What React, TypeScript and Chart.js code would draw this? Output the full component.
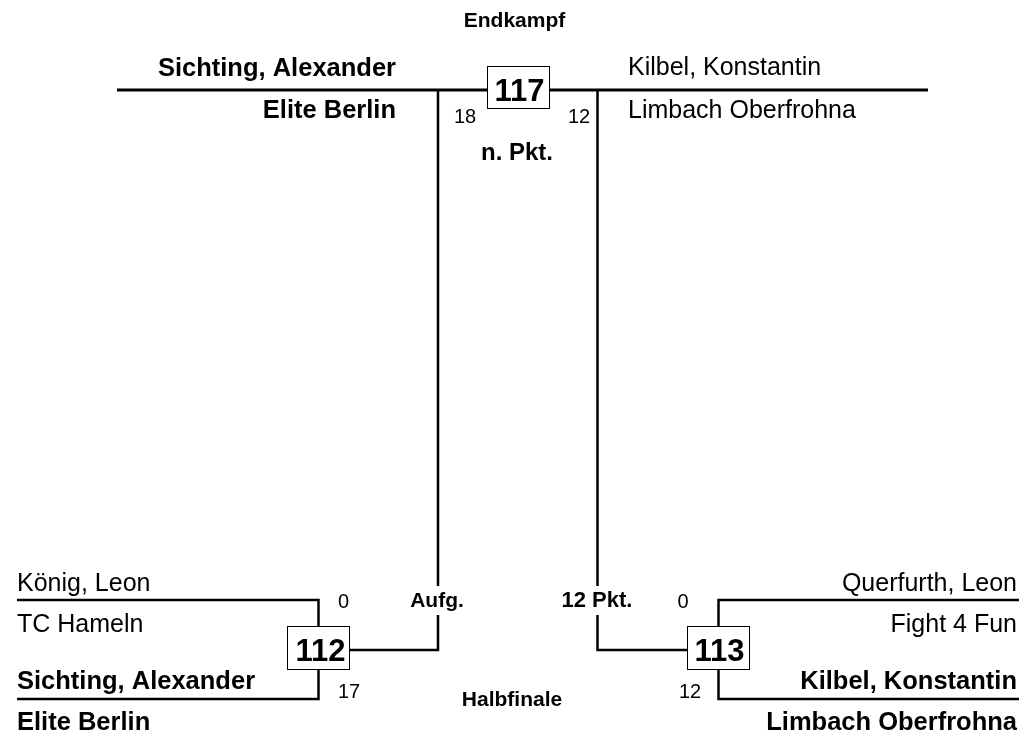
import React, { useEffect, useRef } from "react";
import { Chart, registerables } from "chart.js";

Chart.register(...registerables);

// ---------- data ----------
const roundLabels = ["Halbfinale", "Endkampf"];
const semiMatchNumbers = [112, 113];
const finalMatchNumber = 117;

const semiPlayersLeft = ["König, Leon", "Sichting, Alexander"];
const semiClubsLeft = ["TC Hameln", "Elite Berlin"];
const semiScoresLeft = [0, 17];

const semiPlayersRight = ["Querfurth, Leon", "Kilbel, Konstantin"];
const semiClubsRight = ["Fight 4 Fun", "Limbach Oberfrohna"];
const semiScoresRight = [0, 12];

const semiWinnerIndex = [1, 1];
const semiResults = ["Aufg.", "12 Pkt."];

const finalPlayers = ["Sichting, Alexander", "Kilbel, Konstantin"];
const finalClubs = ["Elite Berlin", "Limbach Oberfrohna"];
const finalScores = [18, 12];
const finalWinnerIndex = 0;
const finalResult = "n. Pkt.";

// ---------- layout (page units) ----------
const W = 1021;
const H = 737;
const FONT = "'Liberation Sans', Arial, Helvetica, sans-serif";

const LAYOUT = {
  finalLineY: 90,
  finalLineX0: 117,
  finalLineX1: 928,
  finalBoxCx: 518.5,
  finalBoxCy: 87.5,
  boxW: 62,
  finalBoxH: 42,
  semiBoxH: 43,
  feedX: [438, 597.5],
  semiBoxCx: [318.5, 718.5],
  semiBoxCy: 648,
  connectorY: 650,
  semiTopY: 600,
  semiBotY: 699,
  semiOuterX: [17, 1019],
  resultGap: [586, 615],
};

const SIZE = {
  nameBold: 25.5,
  nameRegular: 25,
  round: 21,
  score: 20,
  matchNo: 31,
  finalResult: 24,
  semiResult: [21, 22],
};

type Txt = { t: string; x: number; y: number; size: number; bold: boolean; align: CanvasTextAlign };

function buildSegments(): { x: number; y: number }[][] {
  const L = LAYOUT;
  const segs: { x: number; y: number }[][] = [];
  for (let s = 0; s < 2; s++) {
    const bx = L.semiBoxCx[s];
    const ox = L.semiOuterX[s];
    const top = L.semiBoxCy - L.semiBoxH / 2;
    const bot = L.semiBoxCy + L.semiBoxH / 2;
    segs.push([{ x: ox, y: L.semiTopY }, { x: bx, y: L.semiTopY }, { x: bx, y: top }]);
    segs.push([{ x: bx, y: bot }, { x: bx, y: L.semiBotY }, { x: ox, y: L.semiBotY }]);
    const edge = s === 0 ? bx + L.boxW / 2 : bx - L.boxW / 2;
    const fx = L.feedX[s];
    segs.push([{ x: edge, y: L.connectorY }, { x: fx, y: L.connectorY }, { x: fx, y: L.resultGap[1] }]);
    segs.push([{ x: fx, y: L.resultGap[0] }, { x: fx, y: L.finalLineY }]);
  }
  return segs;
}

function nameSize(bold: boolean) {
  return bold ? SIZE.nameBold : SIZE.nameRegular;
}

function buildTexts(): Txt[] {
  const L = LAYOUT;
  const out: Txt[] = [];
  const push = (t: string, x: number, y: number, size: number, bold: boolean, align: CanvasTextAlign) =>
    out.push({ t, x, y, size, bold, align });
  // round labels
  push(roundLabels[1], 514.5, 27, SIZE.round, true, "center");
  push(roundLabels[0], 512, 706, SIZE.round, true, "center");
  // final
  const b0 = finalWinnerIndex === 0;
  const b1 = finalWinnerIndex === 1;
  push(finalPlayers[0], 396, 76, nameSize(b0), b0, "right");
  push(finalClubs[0], 396, 118, nameSize(b0), b0, "right");
  push(finalPlayers[1], 628, 75, nameSize(b1), b1, "left");
  push(finalClubs[1], 628, 118, nameSize(b1), b1, "left");
  push(String(finalMatchNumber), L.finalBoxCx + 1, 101, SIZE.matchNo, true, "center");
  push(String(finalScores[0]), 465, 123, SIZE.score, false, "center");
  push(String(finalScores[1]), 579, 123, SIZE.score, false, "center");
  push(finalResult, 517, 160, SIZE.finalResult, true, "center");
  // left semifinal
  const lx = L.semiOuterX[0];
  const l0 = semiWinnerIndex[0] === 0;
  const l1 = semiWinnerIndex[0] === 1;
  push(semiPlayersLeft[0], lx, 591, nameSize(l0), l0, "left");
  push(semiClubsLeft[0], lx, 632, nameSize(l0), l0, "left");
  push(semiPlayersLeft[1], lx, 689, nameSize(l1), l1, "left");
  push(semiClubsLeft[1], lx, 730, nameSize(l1), l1, "left");
  push(String(semiScoresLeft[0]), 343.5, 607.5, SIZE.score, false, "center");
  push(String(semiScoresLeft[1]), 349, 697.5, SIZE.score, false, "center");
  push(String(semiMatchNumbers[0]), L.semiBoxCx[0] + 2, 661, SIZE.matchNo, true, "center");
  push(semiResults[0], 437, 607, SIZE.semiResult[0], true, "center");
  // right semifinal
  const rx = 1017;
  const r0 = semiWinnerIndex[1] === 0;
  const r1 = semiWinnerIndex[1] === 1;
  push(semiPlayersRight[0], rx, 591, nameSize(r0), r0, "right");
  push(semiClubsRight[0], rx, 632, nameSize(r0), r0, "right");
  push(semiPlayersRight[1], rx, 689, nameSize(r1), r1, "right");
  push(semiClubsRight[1], rx, 730, nameSize(r1), r1, "right");
  push(String(semiScoresRight[0]), 683, 607.5, SIZE.score, false, "center");
  push(String(semiScoresRight[1]), 690, 697.5, SIZE.score, false, "center");
  push(String(semiMatchNumbers[1]), L.semiBoxCx[1] + 1, 661, SIZE.matchNo, true, "center");
  push(semiResults[1], 597, 607, SIZE.semiResult[1], true, "center");
  return out;
}

const overlayPlugin = {
  id: "bracketOverlay",
  afterDatasetsDraw(chart: any) {
    const ctx: CanvasRenderingContext2D = chart.ctx;
    const xs = chart.scales.x;
    const ys = chart.scales.y;
    const px = (v: number) => xs.getPixelForValue(v);
    const py = (v: number) => ys.getPixelForValue(v);
    const L = LAYOUT;
    const boxes = [
      { cx: L.finalBoxCx, cy: L.finalBoxCy, h: L.finalBoxH },
      { cx: L.semiBoxCx[0], cy: L.semiBoxCy, h: L.semiBoxH },
      { cx: L.semiBoxCx[1], cy: L.semiBoxCy, h: L.semiBoxH },
    ];
    ctx.save();
    boxes.forEach((b) => {
      const x0 = px(b.cx - L.boxW / 2);
      const x1 = px(b.cx + L.boxW / 2);
      const y0 = py(b.cy - b.h / 2);
      const y1 = py(b.cy + b.h / 2);
      ctx.fillStyle = "#ffffff";
      ctx.fillRect(x0, y0, x1 - x0, y1 - y0);
      ctx.strokeStyle = "#000000";
      ctx.lineWidth = 1;
      ctx.strokeRect(x0, y0, x1 - x0, y1 - y0);
    });
    ctx.fillStyle = "#000000";
    ctx.textBaseline = "alphabetic";
    buildTexts().forEach((t) => {
      ctx.font = `${t.bold ? "bold " : ""}${t.size}px ${FONT}`;
      ctx.textAlign = t.align;
      ctx.fillText(t.t, px(t.x), py(t.y));
    });
    ctx.restore();
  },
};

export default function App() {
  const ref = useRef<HTMLCanvasElement | null>(null);

  useEffect(() => {
    if (!ref.current) return;
    const segs = buildSegments();
    const datasets: any[] = [
      {
        data: [
          { x: LAYOUT.finalLineX0, y: LAYOUT.finalLineY },
          { x: LAYOUT.finalLineX1, y: LAYOUT.finalLineY },
        ],
        borderColor: "#000000",
        borderWidth: 3,
        showLine: true,
        pointRadius: 0,
        fill: false,
      },
      ...segs.map((s) => ({
        data: s,
        borderColor: "#000000",
        borderWidth: 2.5,
        borderJoinStyle: "miter",
        showLine: true,
        pointRadius: 0,
        fill: false,
      })),
    ];
    const chart = new Chart(ref.current, {
      type: "scatter",
      data: { datasets },
      options: {
        responsive: false,
        animation: false,
        events: [],
        layout: { padding: 0 },
        scales: {
          x: { type: "linear", min: 0, max: W, display: false },
          y: { type: "linear", min: 0, max: H, reverse: true, display: false },
        },
        plugins: { legend: { display: false }, tooltip: { enabled: false } },
      },
      plugins: [overlayPlugin],
    });
    return () => chart.destroy();
  }, []);

  return (
    <div style={{ position: "fixed", left: 0, top: 0, width: W, height: H, background: "#fff" }}>
      <canvas ref={ref} width={W} height={H} style={{ display: "block" }} />
    </div>
  );
}
